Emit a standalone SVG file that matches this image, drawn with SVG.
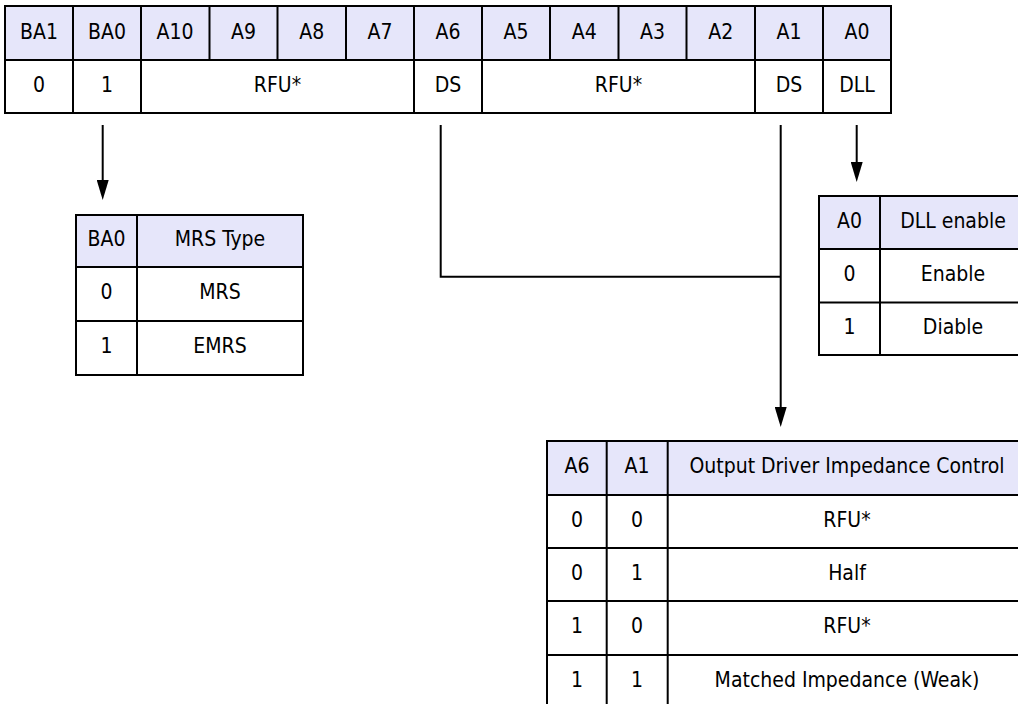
<svg xmlns="http://www.w3.org/2000/svg" width="1018" height="704" viewBox="0 0 1018 704">
<style>
  .hdr { fill: #e6e6fa; stroke: none; }
  .body { fill: #ffffff; stroke: none; }
  .ln { stroke: #000; stroke-width: 2; fill: none; }
  .t { font-family: "DejaVu Sans Condensed", "DejaVu Sans", sans-serif; font-stretch: condensed; font-size: 21px; fill: #000; text-anchor: middle; }
  .conn { stroke: #000; stroke-width: 2; fill: none; }
</style>
<defs>
  <marker id="arrow" viewBox="0 0 20 12" refX="14" refY="6" markerWidth="20" markerHeight="12" markerUnits="userSpaceOnUse" orient="auto">
    <path d="M0,0 L20,6 L0,12 z" fill="#000"/>
  </marker>
</defs>
<rect x="0" y="0" width="1018" height="704" fill="#fff"/>

<g id="register">
  <rect class="hdr" x="5" y="6" width="886" height="54"/>
  <rect class="body" x="5" y="60" width="886" height="53"/>
  <path class="ln" d="M5,6 H891 V113 H5 Z M5,60 H891"/>
  <path class="ln" d="M73,6 V113 M141,6 V113 M209.5,6 V60 M277.5,6 V60 M346,6 V60 M414,6 V113 M482,6 V113 M550,6 V60 M618.5,6 V60 M686.5,6 V60 M755,6 V113 M823,6 V113"/>
  <text class="t" x="39" y="38.5">BA1</text>
  <text class="t" x="107" y="38.5">BA0</text>
  <text class="t" x="175" y="38.5">A10</text>
  <text class="t" x="243.5" y="38.5">A9</text>
  <text class="t" x="311.7" y="38.5">A8</text>
  <text class="t" x="380" y="38.5">A7</text>
  <text class="t" x="448" y="38.5">A6</text>
  <text class="t" x="516" y="38.5">A5</text>
  <text class="t" x="584.2" y="38.5">A4</text>
  <text class="t" x="652.5" y="38.5">A3</text>
  <text class="t" x="720.7" y="38.5">A2</text>
  <text class="t" x="789" y="38.5">A1</text>
  <text class="t" x="857" y="38.5">A0</text>
  <text class="t" x="39" y="92">0</text>
  <text class="t" x="107" y="92">1</text>
  <text class="t" x="277.5" y="92">RFU*</text>
  <text class="t" x="448" y="92">DS</text>
  <text class="t" x="618.5" y="92">RFU*</text>
  <text class="t" x="789" y="92">DS</text>
  <text class="t" x="857" y="92">DLL</text>
</g>

<g id="connectors">
  <line class="conn" x1="102.7" y1="125" x2="102.7" y2="194" marker-end="url(#arrow)"/>
  <line class="conn" x1="856.7" y1="125" x2="856.7" y2="176" marker-end="url(#arrow)"/>
  <polyline class="conn" points="440.7,125 440.7,276.7 780.7,276.7"/>
  <line class="conn" x1="780.7" y1="125" x2="780.7" y2="421" marker-end="url(#arrow)"/>
</g>

<g id="mrs-type">
  <rect class="hdr" x="76" y="215" width="227" height="52"/>
  <rect class="body" x="76" y="267" width="227" height="108"/>
  <path class="ln" d="M76,215 H303 V375 H76 Z M76,267 H303 M76,321 H303 M137,215 V375"/>
  <text class="t" x="106.5" y="246">BA0</text>
  <text class="t" x="220" y="246">MRS Type</text>
  <text class="t" x="106.5" y="299">0</text>
  <text class="t" x="220" y="299">MRS</text>
  <text class="t" x="106.5" y="353">1</text>
  <text class="t" x="220" y="353">EMRS</text>
</g>

<g id="dll-enable">
  <rect class="hdr" x="819" y="196" width="207" height="53"/>
  <rect class="body" x="819" y="249" width="207" height="106"/>
  <path class="ln" d="M1026,196 H819 V355 H1026 M819,249 H1026 M819,302.5 H1026 M880,196 V355"/>
  <text class="t" x="849.5" y="227.5">A0</text>
  <text class="t" x="953" y="227.5">DLL enable</text>
  <text class="t" x="849.5" y="280.5">0</text>
  <text class="t" x="953" y="280.5">Enable</text>
  <text class="t" x="849.5" y="333.5">1</text>
  <text class="t" x="953" y="333.5">Diable</text>
</g>

<g id="odic">
  <rect class="hdr" x="547" y="441" width="479" height="54"/>
  <rect class="body" x="547" y="495" width="479" height="215"/>
  <path class="ln" d="M1026,441 H547 V710 M547,495 H1026 M547,548 H1026 M547,601 H1026 M547,655 H1026 M606.7,441 V710 M667.7,441 V710"/>
  <text class="t" x="577" y="473">A6</text>
  <text class="t" x="637" y="473">A1</text>
  <text class="t" x="847" y="473">Output Driver Impedance Control</text>
  <text class="t" x="577" y="526.5">0</text>
  <text class="t" x="637" y="526.5">0</text>
  <text class="t" x="847" y="526.5">RFU*</text>
  <text class="t" x="577" y="579.5">0</text>
  <text class="t" x="637" y="579.5">1</text>
  <text class="t" x="847" y="579.5">Half</text>
  <text class="t" x="577" y="633">1</text>
  <text class="t" x="637" y="633">0</text>
  <text class="t" x="847" y="633">RFU*</text>
  <text class="t" x="577" y="687">1</text>
  <text class="t" x="637" y="687">1</text>
  <text class="t" x="847" y="687">Matched Impedance (Weak)</text>
</g>
</svg>
